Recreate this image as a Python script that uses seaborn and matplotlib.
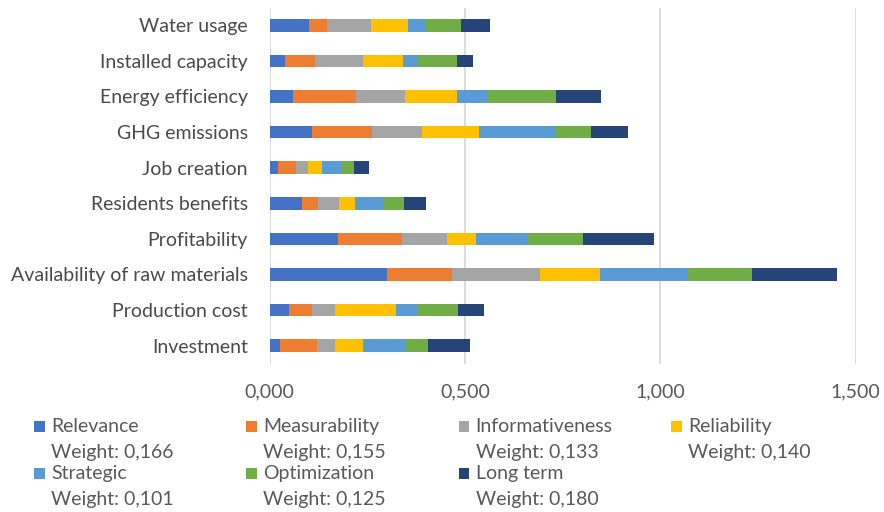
import matplotlib
matplotlib.use("Agg")
import matplotlib.pyplot as plt
from matplotlib.patches import Rectangle
from matplotlib.ticker import FuncFormatter, FixedLocator
import numpy as np
import pandas as pd
import seaborn as sns

categories = ["Water usage", "Installed capacity", "Energy efficiency", "GHG emissions",
              "Job creation", "Residents benefits", "Profitability",
              "Availability of raw materials", "Production cost", "Investment"]

series_names = ["Relevance", "Measurability", "Informativeness", "Reliability",
                "Strategic", "Optimization", "Long term"]
weight_labels = ["0,166", "0,155", "0,133", "0,140", "0,101", "0,125", "0,180"]

relevance = [0.102, 0.040, 0.059, 0.109, 0.023, 0.083, 0.176, 0.301, 0.051, 0.026]
measurability = [0.046, 0.077, 0.163, 0.153, 0.045, 0.042, 0.162, 0.165, 0.059, 0.096]
informativeness = [0.113, 0.122, 0.124, 0.128, 0.031, 0.053, 0.116, 0.225, 0.057, 0.045]
reliability = [0.094, 0.103, 0.134, 0.145, 0.035, 0.041, 0.074, 0.154, 0.156, 0.071]
strategic = [0.046, 0.039, 0.078, 0.196, 0.049, 0.072, 0.131, 0.226, 0.055, 0.109]
optimization = [0.090, 0.100, 0.174, 0.091, 0.032, 0.052, 0.142, 0.163, 0.105, 0.059]
long_term = [0.074, 0.041, 0.116, 0.096, 0.040, 0.057, 0.184, 0.217, 0.067, 0.108]

x_ticks = [0.0, 0.5, 1.0, 1.5]

colors = ["#4472C4", "#ED7D31", "#A5A5A5", "#FFC000", "#5B9BD5", "#70AD47", "#264478"]

sns.set_theme(style="white")
plt.rcParams["font.family"] = ["Lato", "DejaVu Sans"]

W, H = 884, 512
fig = plt.figure(figsize=(W / 100, H / 100), dpi=100)
ax = fig.add_axes([269.5 / W, 1 - 363.5 / H, (855.7 - 269.5) / W, (363.5 - 7.5) / H])

data = np.array([relevance, measurability, informativeness, reliability,
                 strategic, optimization, long_term])
cum = np.cumsum(data, axis=0)

df = pd.DataFrame({"category": categories})
for k in range(len(series_names) - 1, -1, -1):
    df["value"] = cum[k]
    sns.barplot(data=df, x="value", y="category", orient="h", color=colors[k],
                saturation=1, width=0.357, errorbar=None, linewidth=0, ax=ax)

ax.set_xlim(0, 1.5)
ax.set_ylim(len(categories) - 0.5, -0.5)
ax.xaxis.set_major_locator(FixedLocator(x_ticks))
ax.xaxis.set_major_formatter(FuncFormatter(lambda v, p: f"{v:.3f}".replace(".", ",")))
ax.grid(axis="x", color="#D9D9D9", linewidth=1.3)
ax.grid(axis="y", visible=False)
ax.set_axisbelow(True)
for s in ax.spines.values():
    s.set_visible(False)
ax.set_xlabel("")
ax.set_ylabel("")
ax.tick_params(axis="both", length=0)
ax.tick_params(axis="x", labelsize=14, labelcolor="#595959", pad=14)
ax.tick_params(axis="y", labelsize=14, labelcolor="#4a4a4a", pad=15.5)

# legend laid out like the source (row-major, 4 columns)
txt_color = "#595959"
for i, (name, wl) in enumerate(zip(series_names, weight_labels)):
    col, row = i % 4, i // 4
    mx = 34 + 212.3 * col
    top = 421 + 47 * row
    fig.add_artist(Rectangle((mx / W, 1 - (top + 10.7) / H), 10.7 / W, 10.7 / H,
                             transform=fig.transFigure, facecolor=colors[i],
                             edgecolor="none"))
    tx = mx + 17
    fig.text(tx / W, 1 - (432 + 47 * row) / H, name, fontsize=14, color=txt_color,
             ha="left", va="baseline")
    fig.text(tx / W, 1 - (458.3 + 47 * row) / H, f"Weight: {wl}", fontsize=14,
             color=txt_color, ha="left", va="baseline")

fig.savefig("out.png", dpi=100)
